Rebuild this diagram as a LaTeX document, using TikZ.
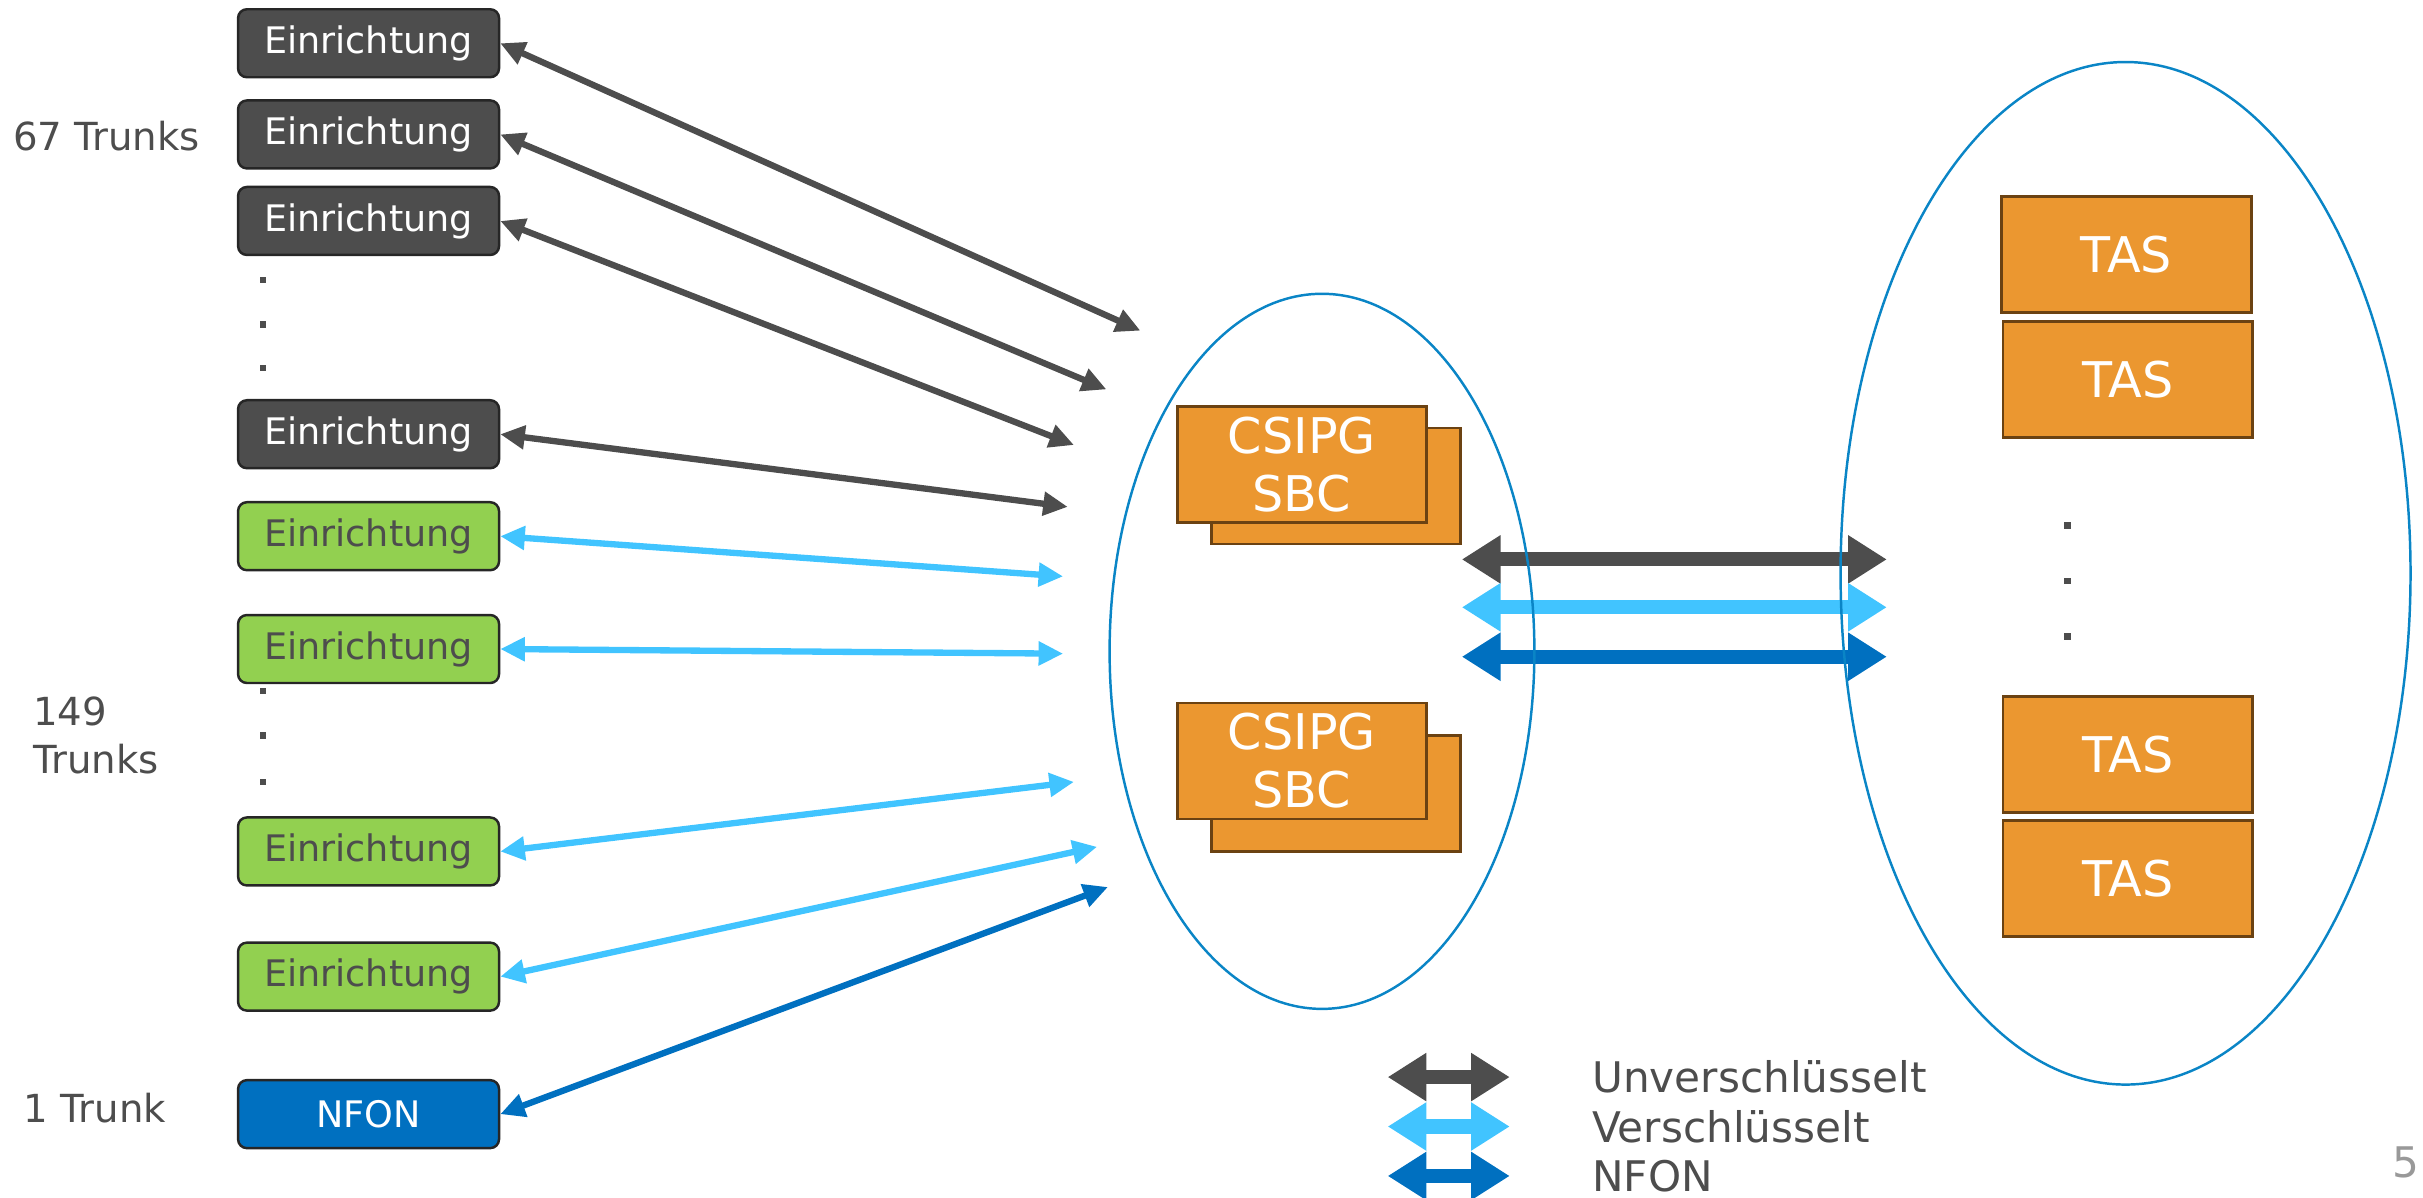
\documentclass[tikz,border=0pt]{standalone}
\usepackage{fontspec}
\setmainfont{DejaVu Sans}
\usetikzlibrary{arrows.meta,shapes.geometric}

\definecolor{dunkel}{HTML}{4D4D4D}
\definecolor{gruen}{HTML}{92D050}
\definecolor{nfonblau}{HTML}{0070C0}
\definecolor{hellblau}{HTML}{41C4FF}
\definecolor{sbcorange}{HTML}{EB9730}
\definecolor{rand}{HTML}{6B4212}
\definecolor{kreis}{HTML}{0A85C6}

\begin{document}
\begin{tikzpicture}[x=0.01545cm, y=-0.01545cm,
  einr/.style={draw=black!85, line width=0.7pt, rounded corners=2.5pt, minimum width=2.61cm, minimum height=0.68cm, inner sep=0pt, font=\fontsize{10.4}{12}\selectfont},
  sbc/.style={draw=rand, fill=sbcorange, line width=0.8pt, minimum width=2.49cm, minimum height=1.16cm, inner sep=0pt, text=white, align=center, font=\fontsize{14}{16.5}\selectfont},
  tas/.style={sbc, minimum width=2.5cm},
  feld/.style={draw=kreis, line width=0.7pt, ellipse, inner sep=0pt},
  punkt/.style={fill=dunkel, minimum size=1.8pt, inner sep=0pt},
  duenn/.style={line width=1.8pt, {Triangle[length=7pt,width=6.5pt]}-{Triangle[length=7pt,width=6.5pt]}},
  dick/.style={line width=4pt, {Triangle[length=11pt,width=13pt]}-{Triangle[length=11pt,width=13pt]}},
  lab/.style={text=dunkel, anchor=west, inner sep=0pt, font=\fontsize{11}{13.5}\selectfont}]
\useasboundingbox (0,0) rectangle (1568,775);

\node [einr, fill=dunkel, text=white] (e1) at (238.5,28) {Einrichtung};
\node [einr, fill=dunkel, text=white] (e2) at (238.5,87) {Einrichtung};
\node [einr, fill=dunkel, text=white] (e3) at (238.5,143) {Einrichtung};
\node [einr, fill=dunkel, text=white] (e4) at (238.5,281) {Einrichtung};
\node [einr, fill=gruen, text=dunkel] (g1) at (238.5,347) {Einrichtung};
\node [einr, fill=gruen, text=dunkel] (g2) at (238.5,420) {Einrichtung};
\node [einr, fill=gruen, text=dunkel] (g3) at (238.5,551) {Einrichtung};
\node [einr, fill=gruen, text=dunkel] (g4) at (238.5,632) {Einrichtung};
\node [einr, fill=nfonblau, text=white] (nf) at (238.5,721) {NFON};

\foreach \y in {181,210,238,447,476,506}
  \node [punkt] at (170,\y) {};

\node [lab] (t67) at (8,88) {67 Trunks};
\node [lab, align=left] (t149) at (21,476) {149\\Trunks};
\node [lab] (t1) at (15,717) {1 Trunk};

\node [sbc] (s1b) at (864.5,314.5) {};
\node [sbc] (s1) at (842.5,300.5) {CSIPG\\SBC};
\node [sbc] (s2b) at (864.5,513.5) {};
\node [sbc] (s2) at (842.5,492.5) {CSIPG\\SBC};

\node [tas] (tas1) at (1376,164.5) {TAS};
\node [tas] (tas2) at (1377,245.5) {TAS};
\node [tas] (tas3) at (1377,488.5) {TAS};
\node [tas] (tas4) at (1377,568.5) {TAS};
\foreach \y in {340,376,412}
  \node [punkt] at (1338,\y) {};

\coordinate (z1) at (738,214);
\coordinate (z2) at (716,252);
\coordinate (z3) at (695,288);
\coordinate (z4) at (691,328);
\coordinate (z5) at (688,373);
\coordinate (z6) at (688,423);
\coordinate (z7) at (695,506);
\coordinate (z8) at (710,548);
\coordinate (z9) at (717,574);

\draw [duenn, dunkel] (e1.east) -- (z1);
\draw [duenn, dunkel] (e2.east) -- (z2);
\draw [duenn, dunkel] (e3.east) -- (z3);
\draw [duenn, dunkel] (e4.east) -- (z4);
\draw [duenn, hellblau] (g1.east) -- (z5);
\draw [duenn, hellblau] (g2.east) -- (z6);
\draw [duenn, hellblau] (g3.east) -- (z7);
\draw [duenn, hellblau] (g4.east) -- (z8);
\draw [duenn, nfonblau] (nf.east) -- (z9);

\coordinate (h1a) at (946,362);
\coordinate (h1b) at (1221,362);
\coordinate (h2a) at (946,393);
\coordinate (h2b) at (1221,393);
\coordinate (h3a) at (946,425);
\coordinate (h3b) at (1221,425);
\draw [dick, dunkel] (h1a) -- (h1b);
\draw [dick, hellblau] (h2a) -- (h2b);
\draw [dick, nfonblau] (h3a) -- (h3b);

\node [feld, minimum width=4.249cm, minimum height=7.153cm] (sbcfeld) at (855.5,421.5) {};
\node [feld, minimum width=5.701cm, minimum height=10.228cm] (tasfeld) at (1375.5,371) {};

\coordinate (l1a) at (898,697);
\coordinate (l1b) at (977,697);
\coordinate (l2a) at (898,729);
\coordinate (l2b) at (977,729);
\coordinate (l3a) at (898,761);
\coordinate (l3b) at (977,761);
\draw [dick, dunkel] (l1a) -- (l1b);
\draw [dick, hellblau] (l2a) -- (l2b);
\draw [dick, nfonblau] (l3a) -- (l3b);
\node [lab, font=\fontsize{12}{14}\selectfont] (leg1) at (1030,697) {Unverschlüsselt};
\node [lab, font=\fontsize{12}{14}\selectfont] (leg2) at (1030,729) {Verschlüsselt};
\node [lab, font=\fontsize{12}{14}\selectfont] (leg3) at (1030,761) {NFON};

\node [text=gray!80, font=\fontsize{12}{14}\selectfont] (seite) at (1557,752) {5};
\end{tikzpicture}
\end{document}
